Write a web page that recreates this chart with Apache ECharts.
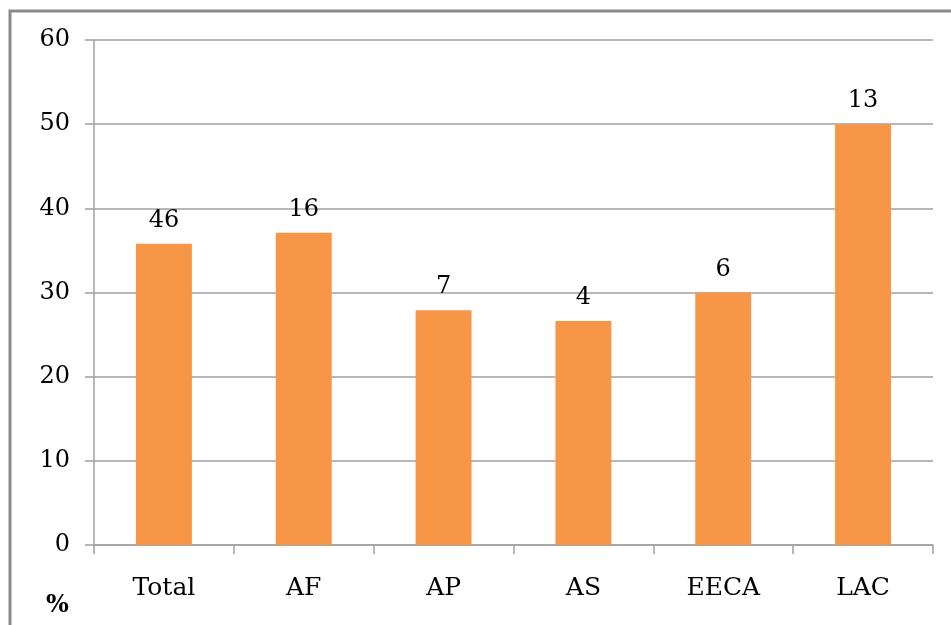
<!DOCTYPE html>
<html>
<head>
<meta charset="utf-8">
<script src="https://cdn.jsdelivr.net/npm/echarts@6/dist/echarts.min.js"></script>
<style>html,body{margin:0;padding:0;background:#fff;}#c{width:951px;height:625px;}</style>
</head>
<body>
<div id="c"></div>
<script>
var categories = ['Total', 'AF', 'AP', 'AS', 'EECA', 'LAC'];
var percentValues = [35.8, 37.1, 27.9, 26.6, 30, 50];
var countLabels = ['46', '16', '7', '4', '6', '13'];
var yTicks = { min: 0, max: 60, interval: 10 };

var chart = echarts.init(document.getElementById('c'), null, { renderer: 'canvas' });
var serif = 'DejaVu Serif';
chart.setOption({
  animation: false,
  backgroundColor: '#ffffff',
  grid: { left: 94, right: 18, top: 40, bottom: 80, containLabel: false },
  xAxis: {
    type: 'category',
    data: categories,
    boundaryGap: true,
    axisLine: { show: true, lineStyle: { color: '#a0a0a0', width: 1.5 } },
    axisTick: { show: true, alignWithLabel: false, length: 9, lineStyle: { color: '#a0a0a0', width: 1.5 } },
    axisLabel: { color: '#000', fontFamily: serif, fontSize: 25, margin: 31 }
  },
  yAxis: {
    type: 'value',
    min: yTicks.min, max: yTicks.max, interval: yTicks.interval,
    axisLine: { show: true, lineStyle: { color: '#a0a0a0', width: 1.5 } },
    axisTick: { show: true, length: 9, lineStyle: { color: '#a0a0a0', width: 1.5 } },
    splitLine: { show: true, lineStyle: { color: '#a0a0a0', width: 1.5 } },
    axisLabel: { color: '#000', fontFamily: serif, fontSize: 24, margin: 24 }
  },
  series: [{
    type: 'bar',
    data: percentValues,
    barWidth: '40%',
    itemStyle: { color: '#F79646' },
    label: {
      show: true,
      position: 'top',
      distance: 11,
      color: '#000',
      fontFamily: serif,
      fontSize: 24,
      formatter: function (p) { return countLabels[p.dataIndex]; }
    }
  }],
  graphic: [
    { type: 'rect', shape: { x: 10, y: 11, width: 960, height: 640 }, style: { fill: 'none', stroke: '#8a8a8a', lineWidth: 3 }, silent: true },
    { type: 'text', left: 46, top: 594, style: { text: '%', fontFamily: serif, fontSize: 24, fontWeight: 'bold', fill: '#000' } }
  ]
});
</script>
</body>
</html>
